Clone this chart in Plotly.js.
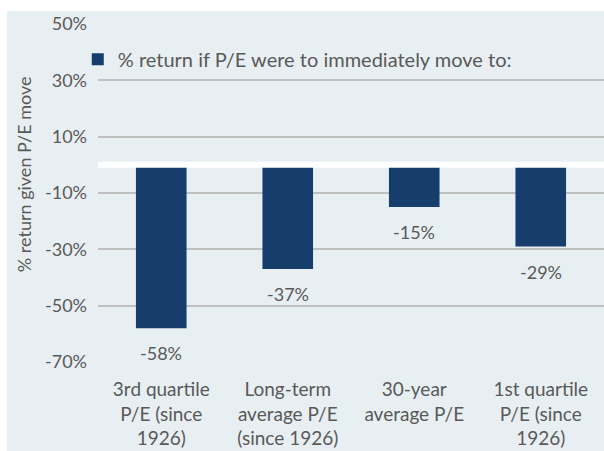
<!DOCTYPE html>
<html><head><meta charset="utf-8">
<script src="https://cdn.plot.ly/plotly-3.0.1.min.js"></script>
<style>
html,body{margin:0;padding:0;background:#fff;}
#chart{position:absolute;left:7px;top:11px;width:597px;height:440px;}
</style></head>
<body><div id="chart"></div>
<script>
const categories = ["3rd quartile<br>P/E (since<br>1926)", "Long-term<br>average P/E<br>(since 1926)", "30-year<br>average P/E", "1st quartile<br>P/E (since<br>1926)"];
const values = [-58, -37, -15, -29];
const labels = ["-58%", "-37%", "-15%", "-29%"];
const seriesName = "% return if P/E were to immediately move to:";
const yTicks = [50, 30, 10, -10, -30, -50, -70];
const yTickLabels = ["50%", "30%", "10%", "-10%", "-30%", "-50%", "-70%"];
const yTitle = "% return given P/E move";

const fam = "Lato, 'Open Sans', sans-serif";
const grey = "#595959";
const trace = {
  type: "bar", x: categories, y: values, name: seriesName,
  marker: {color: "#173d6d"},
  showlegend: true, hoverinfo: "none"
};
const annotations = categories.map((c, i) => ({
  x: c, y: values[i], xref: "x", yref: "y", text: labels[i],
  showarrow: false, yanchor: "top", yshift: -12,
  font: {family: fam, color: grey, size: 18}
}));
annotations.push({
  xref: "paper", yref: "paper", x: -0.146, y: 0.556, xanchor: "center", yanchor: "middle",
  text: yTitle, textangle: -90, showarrow: false,
  font: {family: fam, color: grey, size: 18}
});
const layout = {
  width: 597, height: 440,
  margin: {l: 91, r: 0, t: 13, b: 89},
  paper_bgcolor: "#e8eff2", plot_bgcolor: "#e8eff2",
  font: {family: fam, color: grey, size: 18},
  bargap: 0.6,
  showlegend: true,
  legend: {x: -0.04, y: 0.896, xanchor: "left", yanchor: "middle", bgcolor: "rgba(0,0,0,0)",
           font: {family: fam, color: grey, size: 20}, itemwidth: 30},
  xaxis: {type: "category", showgrid: false, zeroline: false, showline: false,
          ticks: "outside", ticklen: 10, tickcolor: "rgba(0,0,0,0)",
          tickfont: {family: fam, color: grey, size: 19}},
  yaxis: {range: [-70, 50], tickvals: yTicks, ticktext: yTickLabels,
          showgrid: true, gridcolor: "#c0c0c0", gridwidth: 2, zeroline: false,
          showline: false, ticks: "", ticklabelstandoff: 10,
          tickfont: {family: fam, color: grey, size: 18}},
  annotations: annotations,
  shapes: [{type: "line", xref: "paper", yref: "y", x0: 0, x1: 1, y0: 0, y1: 0, line: {color: "#ffffff", width: 6}, layer: "above"}]
};
Plotly.newPlot("chart", [trace], layout, {displayModeBar: false, staticPlot: true});
</script></body></html>
